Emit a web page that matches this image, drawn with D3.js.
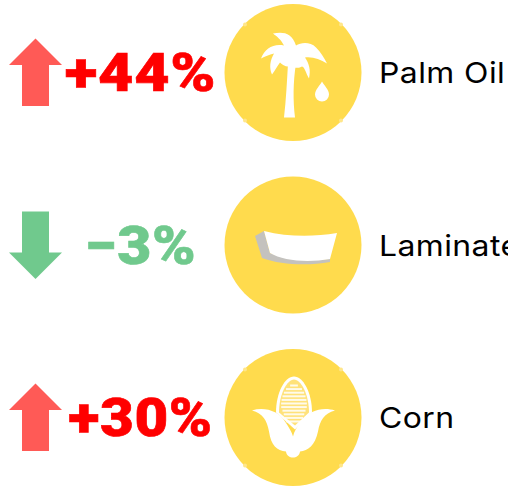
<!DOCTYPE html>
<html><head><meta charset="utf-8">
<script src="https://cdn.jsdelivr.net/npm/d3@7"></script>
<style>html,body{margin:0;padding:0;background:#fff;overflow:hidden}svg{display:block}</style>
</head><body><svg id="c" width="508" height="486"></svg>
<script>
const categories = ["Palm Oil", "Laminate", "Corn"];
const changes = [44, -3, 30];
const changeLabels = ["+44%", "\u22123%", "+30%"];
const icons = ["palm", "laminate", "corn"];

const svg = d3.select("#c");
const y = d3.scalePoint().domain(categories).range([72.5, 417.5]);
const col = v => v >= 0 ? "#ff5a56" : "#70c98d";
const txtCol = v => v >= 0 ? "#ff0000" : "#70c98d";
const labelStretch = [1.13, 1.09, 1.08];

const row = svg.selectAll("g.row").data(categories).join("g")
  .attr("class", "row").attr("transform", d => `translate(0,${y(d)})`);

// arrows
row.append("path")
  .attr("d", (d,i) => {
    const s = changes[i] >= 0 ? 1 : -1;
    const p = [[35.5,-34],[62,-7.5],[49,-7.5],[49,33.5],[22,33.5],[22,-7.5],[9,-7.5]];
    return "M" + p.map(q => `${q[0]},${s*q[1]}`).join("L") + "Z";
  })
  .attr("fill", (d,i) => col(changes[i]));

// change labels
row.append("text")
  .attr("transform", (d,i) => `translate(140.5,18.5) scale(${labelStretch[i]},1)`)
  .attr("text-anchor", "middle")
  .attr("font-family", "Roboto, Inter, sans-serif").attr("font-weight", 900)
  .attr("font-size", 54).attr("letter-spacing", 0.6)
  .attr("stroke", (d,i) => txtCol(changes[i])).attr("stroke-width", 0.6)
  .attr("fill", (d,i) => txtCol(changes[i]))
  .text((d,i) => changeLabels[i]);

// circles
row.append("circle").attr("cx", 293).attr("cy", 0).attr("r", 68.5).attr("fill", "#ffdb4d");

// category labels
row.append("text").attr("transform", "translate(379,10.5) scale(1.1,1)")
  .attr("font-family", "Inter, 'Open Sans', sans-serif").attr("font-weight", 400)
  .attr("font-size", 29).attr("letter-spacing", 0.4).attr("fill", "#000")
  .text(d => d);

// icons (drawn relative to circle centre)
const ic = row.append("g").attr("transform", "translate(293,0)");
ic.each(function(d,i){
  const g = d3.select(this);
  if (icons[i] === "palm") {
    g.append("path").attr("fill","#fff").attr("d",
      "M-9,45 C-7,28 -6,8 -5,-9 L3,-9 C0,10 0,28 2,45 Z");
    g.append("path").attr("fill","#fff").attr("d",
      "M-32,-14 C-28,-24 -20,-29 -9,-27 C-12,-33 -16,-36 -20,-39 C-10,-41 -1,-40 3,-27 C8,-30 17,-31 23,-25 C28,-20 31,-15 34,-9 C27,-13 20,-16 12,-15 C16,-9 18,-3 16,6 C13,1 12,-5 9,-6 C6,-4 3,-5 1,-5 L-5,-6 C-8,-6 -11,-8 -13,-10 C-16,-6 -18,-2 -21,2 C-24,-5 -23,-12 -19,-19 C-24,-18 -28,-16 -32,-14 Z");
    g.append("path").attr("fill","#fff").attr("d",
      "M29,9 C31,13 36,17 36,22 A7,7 0 0 1 22,22 C22,17 27,13 29,9 Z");
  } else if (icons[i] === "laminate") {
    g.append("path").attr("fill","#c4c2be").attr("d",
      "M-38,-9 L-29,-14 L-23,8 C-10,14 15,16 37,14 L37,17 C15,21 -12,20 -31,13 Z");
    g.append("path").attr("fill","#fff").attr("d",
      "M-29,-14 C-5,-8 20,-8 44,-12 L37,14 C15,18 -10,16 -23,8 Z");
  } else {
    g.append("path").attr("fill","#fff").attr("d",
      "M-17,-5 C-17,-25 -8,-41 1,-41 C10,-41 19,-25 19,-5 L2,12 Z");
    g.append("path").attr("fill","#ffe27a").attr("d",
      "M-14,-5 C-14,-23 -6,-38 1,-38 C8,-38 16,-23 16,-5 L2,8 Z");
    d3.range(-33, 6, 3.6).forEach(v => {
      const t = (v + 12) / 22;
      const hw = v < -12 ? 13 * Math.sqrt(Math.max(0.05, 1 - t*t)) : 13 - (v + 12) * 0.35;
      g.append("rect").attr("x", 1 - hw).attr("y", v).attr("width", 2*hw).attr("height", 2)
        .attr("fill","#fff").attr("opacity",0.85);
    });
    g.append("path").attr("fill","#fff").attr("d",
      "M-41,-7 C-28,-11 -14,-6 -8,4 C-4,10 -1,15 0,19 C1,14 4,9 9,3 C16,-7 30,-11 42,-7 C31,-4 27,3 25,14 C22,28 15,33 7,34 C6,42 -6,42 -7,34 C-16,33 -22,28 -24,14 C-26,3 -30,-4 -41,-7 Z");
  }
  if (icons[i] !== "laminate") {
    [[-48,-48],[48,-48],[-48,48],[48,48]].forEach(p =>
      g.append("circle").attr("cx",p[0]).attr("cy",p[1]).attr("r",2).attr("fill","#ffe68a"));
  }
});
</script></body></html>
